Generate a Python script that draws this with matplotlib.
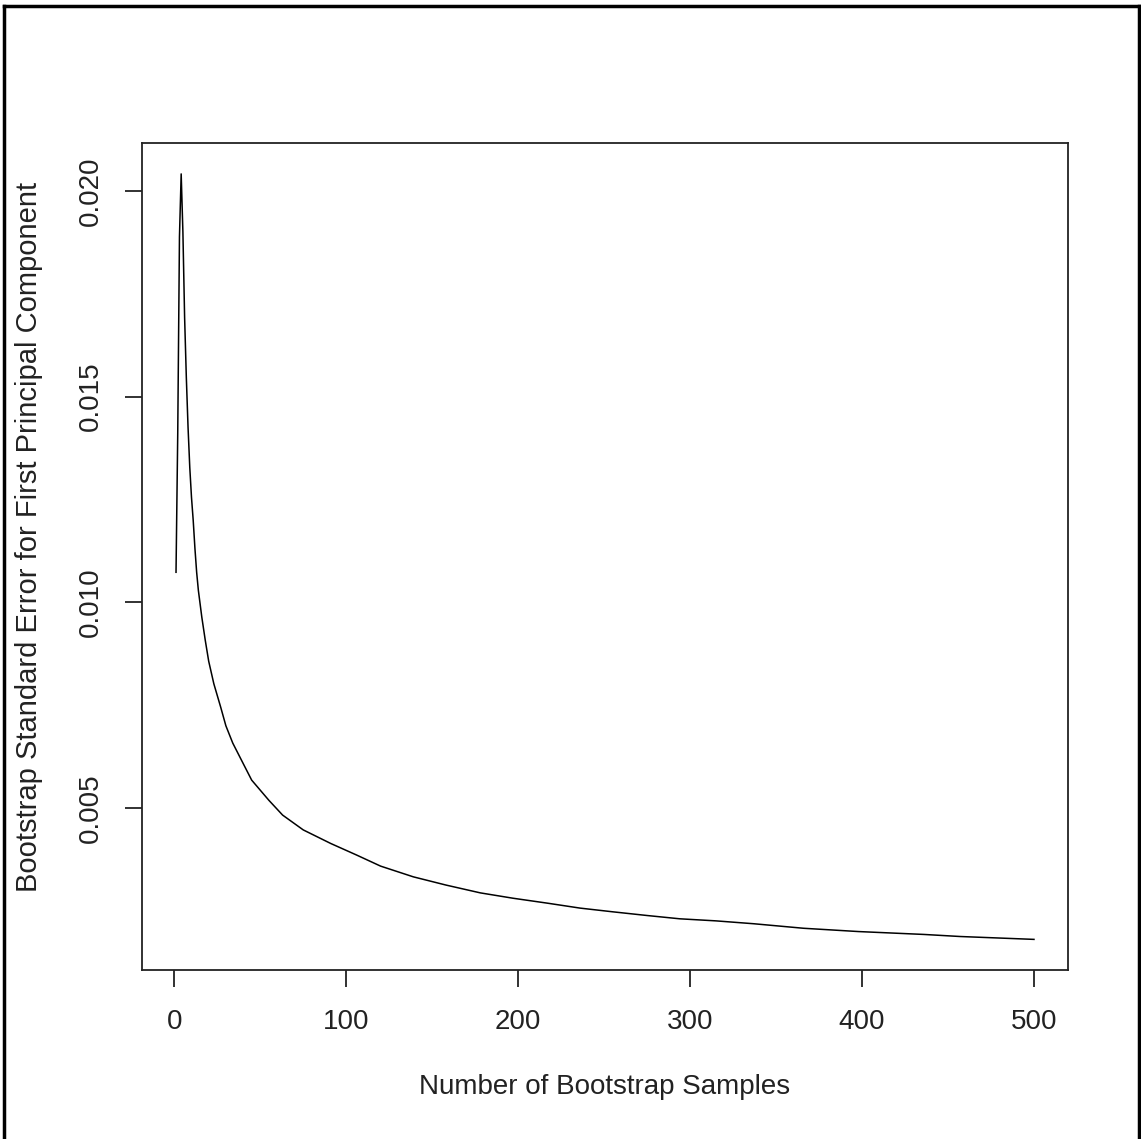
import matplotlib
matplotlib.use("Agg")
import matplotlib.pyplot as plt
from matplotlib.lines import Line2D

plt.rcParams["font.family"] = ["Liberation Sans", "DejaVu Sans"]

# bootstrap sample count and the standard error
n_samples = [1, 2, 3, 4, 5, 6, 7, 8, 9, 10, 11, 12, 13, 14,
             16, 18, 20, 23, 27, 30, 34, 39, 45, 55, 63, 75, 91, 106,
             120, 139, 158, 178, 197, 217, 236, 255, 275, 294, 315,
             337, 366, 398, 436, 457, 500]
std_error = [0.01073, 0.01410, 0.01888, 0.02041, 0.01900, 0.01692, 0.01546,
             0.01425, 0.01328, 0.01255, 0.01199, 0.01131, 0.01073, 0.01029,
             0.00964, 0.00908, 0.00857, 0.00802, 0.00745, 0.00700, 0.00658,
             0.00617, 0.00568, 0.00519, 0.00483, 0.00447, 0.00414, 0.00386,
             0.00359, 0.00333, 0.00313, 0.00294, 0.00281, 0.00269, 0.00257,
             0.00248, 0.00239, 0.00231, 0.00226, 0.00219, 0.00208, 0.00200,
             0.00193, 0.00188, 0.00181]

x_ticks = [0, 100, 200, 300, 400, 500]
y_ticks = [0.005, 0.010, 0.015, 0.020]
y_tick_labels = ["0.005", "0.010", "0.015", "0.020"]

W, H = 1141, 1139
fig = plt.figure(figsize=(W / 100, H / 100), dpi=100)
ax = fig.add_axes([141.7 / W, 1 - 970 / H, (1068.3 - 141.7) / W, (970 - 143.3) / H])

ax.plot(n_samples, std_error, color="black", linewidth=1.1)

# R style 4% padding around the data range
x0, x1 = min(n_samples), max(n_samples)
y0, y1 = min(std_error), max(std_error)
ax.set_xlim(x0 - 0.04 * (x1 - x0), x1 + 0.04 * (x1 - x0))
ax.set_ylim(y0 - 0.04 * (y1 - y0), y1 + 0.04 * (y1 - y0))

ax.set_xticks(x_ticks)
ax.set_xticklabels([str(t) for t in x_ticks])
ax.set_yticks(y_ticks)
ax.set_yticklabels(y_tick_labels, rotation=90, va="center")

for s in ax.spines.values():
    s.set_linewidth(1.3)
    s.set_color("#222222")
ax.tick_params(length=12, width=1.3, color="#222222", labelsize=20,
               labelcolor="#222222")
ax.tick_params(axis="x", pad=16)
ax.tick_params(axis="y", pad=15)

ax.set_xlabel("Number of Bootstrap Samples", fontsize=20, color="#222222",
              labelpad=28)
ax.set_ylabel("Bootstrap Standard Error for First Principal Component",
              fontsize=21, color="#222222", labelpad=25)
ax.yaxis.label.set_y(0.524)

# outer frame of the image (left, top, right)
for xs, ys in [([4 / W, 4 / W], [0, 1 - 6 / H]),
               ([4 / W, 1139 / W], [1 - 6 / H, 1 - 6 / H]),
               ([1139 / W, 1139 / W], [0, 1 - 6 / H])]:
    fig.add_artist(Line2D(xs, ys, color="black", linewidth=2.5,
                          transform=fig.transFigure))

fig.savefig("out.png", dpi=100, facecolor="white")
